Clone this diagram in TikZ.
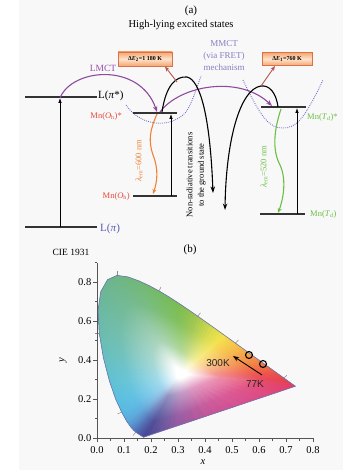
\documentclass[tikz,border=0pt]{standalone}
\usepackage{fontspec}
\setmainfont{Liberation Serif}
\newfontfamily\arialf{Liberation Sans}
\usetikzlibrary{arrows.meta,calc}

\definecolor{panelgray}{HTML}{F8F8F8}
\definecolor{levelc}{HTML}{333333}
\definecolor{purplec}{HTML}{8E4A9E}
\definecolor{lmctc}{HTML}{9A4FAA}
\definecolor{mmctc}{HTML}{8A7CC4}
\definecolor{dotc}{HTML}{6A6ACC}
\definecolor{brownc}{HTML}{B5564E}
\definecolor{orangec}{HTML}{F08232}
\definecolor{greenc}{HTML}{6CBF45}
\definecolor{redc}{HTML}{E8463C}
\definecolor{lpic}{HTML}{5B5BB5}
\definecolor{boxdraw}{HTML}{D9714A}
\definecolor{boxdark}{HTML}{F6A66E}
\definecolor{boxlight}{HTML}{FDE3CC}
\definecolor{axisc}{HTML}{555555}
\definecolor{locusc}{HTML}{6E76B0}
\definecolor{tickc}{HTML}{8A8A8A}
\definecolor{ciec}{HTML}{FFFFFF}
\colorlet{cB}{white}
\colorlet{cLast}{white}

\pgfdeclareradialshading[ciec]{cierad}{\pgfpoint{0bp}{0bp}}{color(0bp)=(white);color(1.5bp)=(white);color(7bp)=(ciec!55!white);color(15bp)=(ciec!88!white);color(26bp)=(ciec);color(50bp)=(ciec)}

\def\locus{0.1741/0.0050/3A3A8C,0.1714/0.0051/3B3D90,0.1644/0.0109/3D4496,0.1566/0.0177/3F4D9E,0.1440/0.0297/4260AE,0.1355/0.0399/4571BA,0.1241/0.0578/4A88C8,0.1096/0.0868/4EA0D8,0.0913/0.1327/4CB2E0,0.0687/0.2007/4FBADE,0.0454/0.2950/55BDD2,0.0235/0.4127/5BBBC0,0.0082/0.5384/60B8AC,0.0039/0.6548/61B59E,0.0139/0.7502/61B292,0.0389/0.8120/62B188,0.0743/0.8338/64B180,0.1142/0.8262/66B278,0.1547/0.8059/68B470,0.1929/0.7816/6AB566,0.2296/0.7543/6CB65C,0.2658/0.7243/6EB752,0.3016/0.6923/71B848,0.3373/0.6589/80BC42,0.3731/0.6245/98C240,0.4087/0.5896/B8CE3E,0.4441/0.5547/D8DA3C,0.4788/0.5202/F2DE3C,0.5125/0.4866/F6C63A,0.5448/0.4544/F5B03A,0.5752/0.4242/F49838,0.6029/0.3965/F28236,0.6270/0.3725/F06E35,0.6482/0.3514/EE5A36,0.6658/0.3340/EC4A38,0.6915/0.3083/E83C40,0.7079/0.2920/E53548,0.7190/0.2809/E3324C,0.7260/0.2740/E2314F,0.7347/0.2653/E23058,0.6226/0.2132/DC3E78,0.5105/0.1612/D4458A,0.3984/0.1091/BF4890,0.2862/0.0571/8C4A98,0.2302/0.0310/604796}
\edef\locusloop{\locus,0.1741/0.0050/3A3A8C,0.1714/0.0051/3B3D90}

\newcount\wn
\def\wedgepoint#1#2#3{%
  \global\advance\wn by 1
  \ifnum\wn>2
    \pgfmathsetmacro\rr{11.5*veclen((\pbx-\wx)/10,(\pby-\wy)/10)+6}%
    \begin{scope}
      \clip (\wx,\wy) -- ({\wx+1.6*(\pax-\wx)},{\wy+1.6*(\pay-\wy)}) -- ({\wx+1.6*(\pbx-\wx)},{\wy+1.6*(\pby-\wy)}) -- ({\wx+1.6*(#1-\wx)},{\wy+1.6*(#2-\wy)}) -- cycle;
      \colorlet{ciec}{cB}%
      \shade[shading=cierad] (\wx,\wy) circle [radius=\rr];
    \end{scope}
  \fi
  \xdef\pax{\pbx}\xdef\pay{\pby}\xdef\pbx{#1}\xdef\pby{#2}%
  \xglobal\colorlet{cB}{#3}%
}

\begin{document}
\begin{tikzpicture}[x=1pt,y=-1pt,
  lvline/.style={levelc,line width=1.3pt},
  uparrow/.style={black,line width=0.8pt,-{Latex[length=5pt,width=3.6pt]}},
  purparrow/.style={purplec,line width=1.1pt,-{Stealth[length=6pt,width=4.5pt]}},
  blackarc/.style={black,line width=1.1pt,-{Stealth[length=6.5pt,width=4.5pt]}},
  brownarrow/.style={brownc,line width=0.9pt,-{Stealth[length=5pt,width=4pt]}},
  wavearrow/.style={line width=1.1pt,-{Stealth[length=5pt,width=4pt]}},
  wellcurve/.style={dotc,line width=0.9pt,dash pattern=on 0.8pt off 1.2pt},
  ebox/.style={draw=boxdraw,line width=0.6pt,top color=boxdark,bottom color=boxdark,middle color=boxlight,inner sep=0pt,font=\fontsize{6}{7}\selectfont\bfseries},
  lbl/.style={inner sep=0pt},
  ticklbl/.style={inner sep=0pt,font=\fontsize{10.5}{12}\selectfont}
]
\useasboundingbox (0,0) rectangle (358,470);
\fill[white] (0,0) rectangle (358,470);
\fill[panelgray] (19,0) rectangle (343,470);

%% ---------------- (a) ----------------
\node[lbl,font=\fontsize{11}{13}\selectfont] (tagA) at (191,11) {(a)};
\node[lbl,font=\fontsize{10.5}{12}\selectfont] (title) at (181,25) {High-lying excited states};

% potential wells
\draw[wellcurve] (126,105) .. controls (142,128) and (172,128) .. (186,112) .. controls (192,103) and (196,90) .. (201,76);
\draw[wellcurve] (243,80) .. controls (262,120) and (270,128) .. (283,128) .. controls (296,128) and (304,120) .. (323,80);

% levels
\coordinate (lsL) at (25,97);  \coordinate (lsR) at (97,97);
\coordinate (lgL) at (25,227); \coordinate (lgR) at (97,227);
\coordinate (ohsL) at (133,113); \coordinate (ohsR) at (177,113);
\coordinate (ohgL) at (133,196); \coordinate (ohgR) at (177,196);
\coordinate (tdsL) at (261,107); \coordinate (tdsR) at (306,107);
\coordinate (tdgL) at (260,214); \coordinate (tdgR) at (305,214);
\draw[lvline] (lsL) -- (lsR);
\draw[lvline] (lgL) -- (lgR);
\draw[lvline] (ohsL) -- (ohsR);
\draw[lvline] (ohgL) -- (ohgR);
\draw[lvline] (tdsL) -- (tdsR);
\draw[lvline] (tdgL) -- (tdgR);

% vertical excitation arrows
\coordinate (v1b) at (60,227); \coordinate (v1t) at (60,98);
\coordinate (v2b) at (171,196); \coordinate (v2t) at (171,114);
\coordinate (v3b) at (297,214); \coordinate (v3t) at (297,108);
\draw[uparrow] (v1b) -- (v1t);
\draw[uparrow] (v2b) -- (v2t);
\draw[uparrow] (v3b) -- (v3t);

% labels of levels
\node[lbl,anchor=west,font=\fontsize{11}{13}\selectfont] (lpistar) at (98,96) {L(\textit{π}*)};
\node[lbl,anchor=west,text=lpic,font=\fontsize{11}{13}\selectfont] (lpi) at (100,229) {L(\textit{π})};
\node[lbl,anchor=east,text=redc,font=\fontsize{8.5}{10}\selectfont] (mnohs) at (122,116) {Mn(\textit{O}\textsubscript{h})*};
\node[lbl,anchor=east,text=redc,font=\fontsize{8.5}{10}\selectfont] (mnoh) at (130,196) {Mn(\textit{O}\textsubscript{h})};
\node[lbl,anchor=west,text=greenc,font=\fontsize{8.5}{10}\selectfont] (mntds) at (307,117) {Mn(\textit{T}\textsubscript{d})*};
\node[lbl,anchor=west,text=greenc,font=\fontsize{8.5}{10}\selectfont] (mntd) at (310,214) {Mn(\textit{T}\textsubscript{d})};

% LMCT / MMCT
\node[lbl,text=lmctc,font=\fontsize{9.5}{11}\selectfont] (lmct) at (103,68) {LMCT};
\node[lbl,align=center,text=mmctc,font=\fontsize{9}{12}\selectfont] (mmct) at (224,56) {MMCT\\(via FRET)\\mechanism};
\coordinate (ohsIn) at (157,112);
\coordinate (ohsOut) at (160,112);
\coordinate (tdsIn) at (272,106);
\draw[purparrow] (v1t) .. controls (72,68) and (140,62) .. (ohsIn);
\draw[purparrow] (ohsOut) .. controls (180,85) and (240,75) .. (tdsIn);

% energy barrier boxes
\node[ebox,minimum width=54pt,minimum height=14pt] (de2) at (145,59) {Δ\textit{E}\textsubscript{2}=1 180 K};
\node[ebox,minimum width=50pt,minimum height=13pt] (de1) at (287,59) {Δ\textit{E}\textsubscript{1}=760 K};

% non-radiative arcs
\coordinate (nr1s) at (162,112); \coordinate (nr1p) at (187,77); \coordinate (nr1e) at (213,193);
\coordinate (nr2s) at (278,107); \coordinate (nr2p) at (261,86); \coordinate (nr2e) at (225,210);
\draw[blackarc] (nr1s) .. controls (166,85) and (176,76) .. (nr1p) .. controls (200,80) and (210,115) .. (nr1e);
\draw[blackarc] (nr2s) .. controls (276,92) and (269,85) .. (nr2p) .. controls (240,89) and (226,140) .. (nr2e);
\node[lbl,rotate=90,align=center,font=\fontsize{8.5}{11.5}\selectfont] (nonrad) at (196,175) {Non-radiative transitions\\to the ground state};

% arrows to boxes
\coordinate (b2s) at (177,82); \coordinate (b2e) at (165,66.5);
\coordinate (b1e) at (275,66);
\draw[brownarrow] (b2s) -- (b2e);
\draw[brownarrow] (nr2p) -- (b1e);

% emission arrows
\coordinate (e1s) at (157,114); \coordinate (e1e) at (153,194);
\coordinate (e2s) at (281,109); \coordinate (e2e) at (278,213);
\draw[wavearrow,orangec] (e1s) .. controls (150,130) and (148,140) .. (153,155) .. controls (159,170) and (157,182) .. (e1e);
\draw[wavearrow,greenc] (e2s) .. controls (274,130) and (272,150) .. (280,165) .. controls (287,180) and (283,200) .. (e2e);
\node[lbl,rotate=90,text=orangec,font=\fontsize{8.5}{10}\selectfont] (lam600) at (139,161) {\textit{λ}\textsubscript{em}=600 nm};
\node[lbl,rotate=90,text=greenc,font=\fontsize{8.5}{10}\selectfont] (lam520) at (264,167) {\textit{λ}\textsubscript{em}=520 nm};

%% ---------------- (b) ----------------
\node[lbl,font=\fontsize{9.5}{11}\selectfont] (cie) at (71,252) {CIE 1931};
\node[lbl,font=\fontsize{11}{13}\selectfont] (tagB) at (190,250) {(b)};

% colour gamut
\xdef\wx{181.43}\xdef\wy{373.85}
\xdef\pax{0}\xdef\pay{0}\xdef\pbx{0}\xdef\pby{0}
\xdef\lx{0}\xdef\ly{0}
\global\wn=0
\begin{scope}
  \clip (144.007,437.025) \foreach \x/\y/\hexc in \locus { -- ({97+270*\x},{438-195*\y}) } -- cycle;
  \fill[white] (90,260) rectangle (300,440);
  \foreach \x/\y/\hexc [count=\n] in \locusloop {
    \pgfmathsetmacro\cx{97+270*\x}
    \pgfmathsetmacro\cy{438-195*\y}
    \definecolor{cNew}{HTML}{\hexc}
    \ifnum\n=1
      \wedgepoint{\cx}{\cy}{cNew}
    \else
      \foreach \k in {1,2,3} {
        \pgfmathsetmacro\sx{\lx+\k/3*(\cx-\lx)}
        \pgfmathsetmacro\sy{\ly+\k/3*(\cy-\ly)}
        \pgfmathtruncatemacro\pct{\k*100/3}
        \wedgepoint{\sx}{\sy}{cNew!\pct!cLast}
      }
    \fi
    \xdef\lx{\cx}\xdef\ly{\cy}\xglobal\colorlet{cLast}{cNew}
  }
\end{scope}
\draw[locusc,line width=0.6pt] (144.007,437.025) \foreach \x/\y/\hexc in \locus { -- ({97+270*\x},{438-195*\y}) } -- cycle;

% wavelength ticks on the locus
\foreach \a/\b/\c/\d in {136/432/133/435.5, 121.7/412/117.5/414, 99.2/333/95/333, 117/275.4/117/271, 159/290.9/161/287, 197.7/316.2/200.5/312.8, 235.4/343.1/238.5/340, 283.7/377.9/287/375.3}
  \draw[tickc,line width=0.5pt] (\a,\b) -- (\c,\d);

% axes
\coordinate (orig) at (97,438);
\coordinate (yend) at (97,263);
\coordinate (xend) at (313,438);
\draw[axisc,line width=0.7pt] (yend) -- (orig) -- (xend);
\foreach \i/\l in {0/0.0,1/0.1,2/0.2,3/0.3,4/0.4,5/0.5,6/0.6,7/0.7,8/0.8} {
  \draw[axisc,line width=0.6pt] ({97+27*\i},438) -- ({97+27*\i},442);
  \node[ticklbl] (xt\i) at ({97+27*\i},450) {\l};
}
\foreach \i in {0,...,7}
  \draw[axisc,line width=0.5pt] ({110.5+27*\i},438) -- ({110.5+27*\i},440.5);
\foreach \j/\l in {0/0.0,1/0.2,2/0.4,3/0.6,4/0.8} {
  \draw[axisc,line width=0.6pt] (97,{438-39*\j}) -- (93,{438-39*\j});
  \node[ticklbl,anchor=east] (yt\j) at (91.5,{438-39*\j}) {\l};
}
\foreach \j in {0,...,4}
  \draw[axisc,line width=0.5pt] (97,{418.5-39*\j}) -- (94.5,{418.5-39*\j});
\node[ticklbl] (xlab) at (203,462) {\textit{x}};
\node[ticklbl,rotate=90] (ylab) at (63,360) {\textit{y}};

% data points
\node[circle,draw=black,line width=1.1pt,minimum size=7pt,inner sep=0pt] (m300) at (249,355) {};
\node[circle,draw=black,line width=1.1pt,minimum size=7pt,inner sep=0pt] (m77) at (263,364) {};
\coordinate (arS) at (262,375); \coordinate (arE) at (233,356);
\draw[black,line width=0.9pt,-{Stealth[length=6pt,width=4.5pt]}] (arS) -- (arE);
\node[lbl,font=\arialf\fontsize{10}{12}\selectfont,text=black!85] (t300) at (218,363) {300K};
\node[lbl,font=\arialf\fontsize{10}{12}\selectfont,text=black!85] (t77) at (255,384) {77K};
\end{tikzpicture}
\end{document}
